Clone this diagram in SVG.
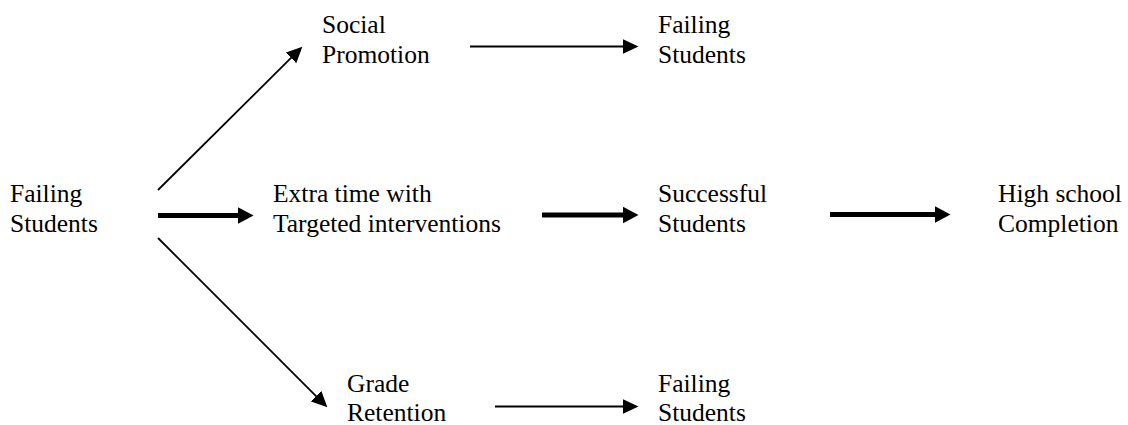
<svg xmlns="http://www.w3.org/2000/svg" width="1128" height="425" viewBox="0 0 1128 425">
  <defs>
    <marker id="headThin" markerUnits="userSpaceOnUse" markerWidth="16" markerHeight="16" refX="7" refY="7" orient="auto" viewBox="0 0 15 14">
      <path d="M0,0 L15,7 L0,14 Z" fill="#000"/>
    </marker>
    <marker id="headThick" markerUnits="userSpaceOnUse" markerWidth="16" markerHeight="17" refX="7" refY="8" orient="auto" viewBox="0 0 15 16">
      <path d="M0,0 L15,8 L0,16 Z" fill="#000"/>
    </marker>
  </defs>
  <rect width="1128" height="425" fill="#fff"/>

  <g id="connectors" stroke="#000" fill="none">
    <g stroke-width="1.8" marker-end="url(#headThin)">
      <line x1="158" y1="190" x2="296.3" y2="52.7"/>
      <line x1="158" y1="238" x2="321.3" y2="401.3"/>
      <line x1="470" y1="46.5" x2="630" y2="46.5"/>
      <line x1="495" y1="406.5" x2="630" y2="406.5"/>
    </g>
    <g stroke-width="5" marker-end="url(#headThick)">
      <line x1="158" y1="215.5" x2="245" y2="215.5"/>
      <line x1="542" y1="215" x2="630" y2="215"/>
      <line x1="830" y1="214.5" x2="942" y2="214.5"/>
    </g>
  </g>

  <g id="node-failing-start">
    <text font-family="Liberation Serif" font-size="25.5"><tspan x="10" y="202">Failing</tspan><tspan x="10" y="232">Students</tspan></text>
  </g>
  <g id="node-social-promotion">
    <text font-family="Liberation Serif" font-size="25.5"><tspan x="322" y="33">Social</tspan><tspan x="322" y="63">Promotion</tspan></text>
  </g>
  <g id="node-failing-top">
    <text font-family="Liberation Serif" font-size="25.5"><tspan x="658" y="33">Failing</tspan><tspan x="658" y="63">Students</tspan></text>
  </g>
  <g id="node-extra-time">
    <text font-family="Liberation Serif" font-size="25.5"><tspan x="273" y="202">Extra time with</tspan><tspan x="273" y="232">Targeted interventions</tspan></text>
  </g>
  <g id="node-successful">
    <text font-family="Liberation Serif" font-size="25.5"><tspan x="658" y="202">Successful</tspan><tspan x="658" y="232">Students</tspan></text>
  </g>
  <g id="node-high-school">
    <text font-family="Liberation Serif" font-size="25.5"><tspan x="998" y="202">High school</tspan><tspan x="998" y="232">Completion</tspan></text>
  </g>
  <g id="node-grade-retention">
    <text font-family="Liberation Serif" font-size="25.5"><tspan x="347" y="392">Grade</tspan><tspan x="347" y="421">Retention</tspan></text>
  </g>
  <g id="node-failing-bottom">
    <text font-family="Liberation Serif" font-size="25.5"><tspan x="658" y="392">Failing</tspan><tspan x="658" y="421">Students</tspan></text>
  </g>
</svg>
